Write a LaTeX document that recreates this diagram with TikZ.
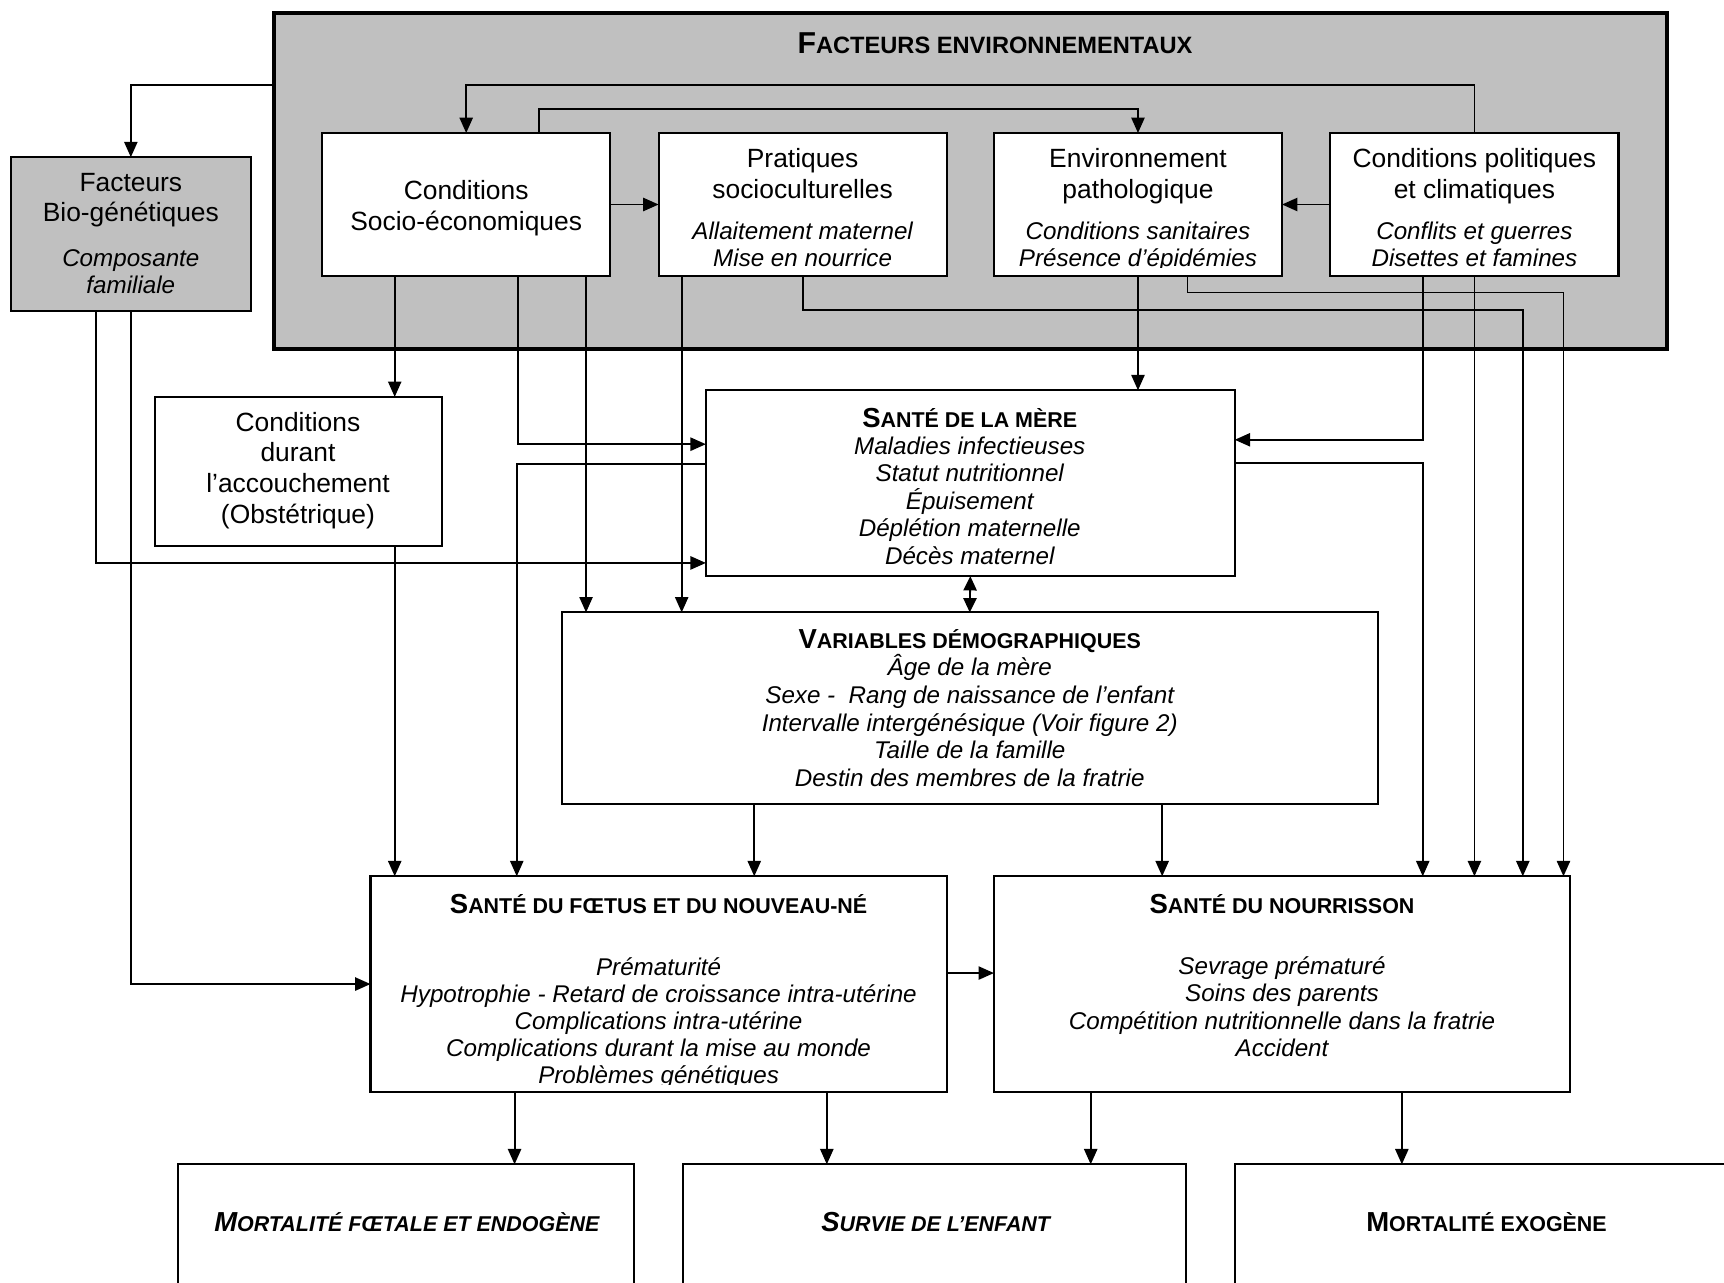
\documentclass[tikz,border=0pt]{standalone}
\usepackage{fontspec}
\setmainfont{Liberation Sans}
\usetikzlibrary{arrows.meta}
\definecolor{grayfill}{HTML}{C0C0C0}
\newcommand\hd[2]{{\fontsize{25}{28}\selectfont #1}{\fontsize{19.5}{22}\selectfont #2}}
\newcommand\hdbig[2]{{\fontsize{27.5}{30}\selectfont #1}{\fontsize{21.5}{24}\selectfont #2}}
\begin{document}
\begin{tikzpicture}[x=1pt,y=-1pt,
  box/.style={draw, line width=1.9pt, fill=white, inner sep=0pt, outer sep=0pt, anchor=north west},
  con/.style={line width=1.7pt, -{Triangle[length=14pt,width=12pt]}},
  dcon/.style={line width=1.7pt, {Triangle[length=13pt,width=12pt]}-{Triangle[length=13pt,width=12pt]}},
  txt/.style={anchor=base, align=center, inner sep=0pt, font=\fontsize{24}{28}\selectfont},
  itx/.style={anchor=base, align=center, inner sep=0pt, font=\fontsize{22}{25}\selectfont\itshape},
  ttl/.style={anchor=base, align=center, inner sep=0pt, font=\bfseries}]
\useasboundingbox (0,0) rectangle (1568,1166);

% environmental frame
\node[box, fill=grayfill, line width=3.6pt, minimum width=1267pt, minimum height=305pt] (envf) at (249,12) {};
\node[ttl] (envfT) at (905,48.5) {\hdbig{F}{ACTEURS ENVIRONNEMENTAUX}};

% boxes
\node[box, fill=grayfill, minimum width=218pt, minimum height=140pt] (bio) at (10,143) {};
\node[box, minimum width=262pt, minimum height=130pt] (socio) at (293,121) {};
\node[box, minimum width=262pt, minimum height=130pt] (prat) at (599,121) {};
\node[box, minimum width=262pt, minimum height=130pt] (env) at (904,121) {};
\node[box, minimum width=262pt, minimum height=130pt] (pol) at (1210,121) {};
\node[box, minimum width=261pt, minimum height=136pt] (cond) at (141,361) {};
\node[box, minimum width=481pt, minimum height=169pt] (mere) at (642,355) {};
\node[box, minimum width=742pt, minimum height=174pt] (var) at (511,557) {};
\node[box, minimum width=524pt, minimum height=196pt] (foetus) at (337,797) {};
\node[box, minimum width=524pt, minimum height=196pt] (nour) at (904,797) {};
\node[box, minimum width=415pt, minimum height=160pt] (mfoet) at (162,1059) {};
\node[box, minimum width=458pt, minimum height=160pt] (surv) at (621,1059) {};
\node[box, minimum width=458pt, minimum height=160pt] (mexo) at (1123,1059) {};

% texts (base anchor = baseline of the last line)
\node[txt, font=\fontsize{24}{27.3}\selectfont] (bioT) at (119,201.6) {Facteurs\\Bio-génétiques};
\node[itx, font=\fontsize{22}{24.3}\selectfont\itshape] (bioI) at (119,266.8) {Composante\\familiale};
\node[txt] (socioT) at (424,209.3) {Conditions\\Socio-économiques};
\node[txt] (pratT) at (730,180.5) {Pratiques\\socioculturelles};
\node[txt] (envT) at (1035,180.5) {Environnement\\pathologique};
\node[txt] (polT) at (1341,180.5) {Conditions politiques\\et climatiques};
\begin{scope}
\clip (prat.north west) rectangle ([yshift=7.5pt]prat.south east);
\node[itx, font=\fontsize{22}{24.5}\selectfont\itshape] (pratI) at (730,242) {Allaitement maternel\\Mise en nourrice};
\end{scope}
\begin{scope}
\clip (env.north west) rectangle ([yshift=7.5pt]env.south east);
\node[itx, font=\fontsize{22}{24.5}\selectfont\itshape] (envI) at (1035,242) {Conditions sanitaires\\Présence d’épidémies};
\end{scope}
\begin{scope}
\clip (pol.north west) rectangle ([yshift=7.5pt]pol.south east);
\node[itx, font=\fontsize{22}{24.5}\selectfont\itshape] (polI) at (1341,242) {Conflits et guerres\\Disettes et famines};
\end{scope}
\node[txt] (condT) at (271,476) {Conditions\\durant\\l’accouchement\\(Obstétrique)};
\node[ttl] (mereT) at (882,389) {\hd{S}{ANTÉ DE LA MÈRE}};
\node[itx] (mereI) at (882,513) {Maladies infectieuses\\Statut nutritionnel\\Épuisement\\Déplétion maternelle\\Décès maternel};
\node[ttl] (varT) at (882,590) {\hd{V}{ARIABLES DÉMOGRAPHIQUES}};
\node[itx, font=\fontsize{22}{25.2}\selectfont\itshape] (varI) at (882,715.3) {Âge de la mère\\Sexe -\ \ Rang de naissance de l’enfant\\Intervalle intergénésique (Voir figure 2)\\Taille de la famille\\Destin des membres de la fratrie};
\node[ttl] (foetusT) at (599,831) {\hd{S}{ANTÉ DU FŒTUS ET DU NOUVEAU-NÉ}};
\begin{scope}
\clip (foetus.north west) rectangle ([yshift=7pt]foetus.south east);
\node[itx, font=\fontsize{22}{24.6}\selectfont\itshape] (foetusI) at (599,985.2) {Prématurité\\Hypotrophie - Retard de croissance intra-utérine\\Complications intra-utérine\\Complications durant la mise au monde\\Problèmes génétiques};
\end{scope}
\node[ttl] (nourT) at (1166,831) {\hd{S}{ANTÉ DU NOURRISSON}};
\node[itx, font=\fontsize{22}{24.8}\selectfont\itshape] (nourI) at (1166,960.9) {Sevrage prématuré\\Soins des parents\\Compétition nutritionnelle dans la fratrie\\Accident};
\node[ttl, font=\bfseries\itshape] (mfoetT) at (370,1120) {\hd{M}{ORTALITÉ FŒTALE ET ENDOGÈNE}};
\node[ttl, font=\bfseries\itshape] (survT) at (851,1120) {\hd{S}{URVIE DE L’ENFANT}};
\node[ttl] (mexoT) at (1352,1120) {\hd{M}{ORTALITÉ EXOGÈNE}};

% connectors inside the frame
\draw[con] (envf.west |- 0,77) -| (bio.north);
\draw[con] (pol.north) -- (pol.north |- 0,77) -| (socio.north);
\draw[con] (socio.north -| 490,0) |- (env.north |- 0,99) -- (env.north);
\draw[con] (socio.east) -- (prat.west);
\draw[con] (pol.west) -- (env.east);

% connectors from the top boxes
\draw[con] (socio.south -| 359,0) -- (cond.north -| 359,0);
\draw[con] (socio.south -| 471,0) |- (mere.west |- 0,404);
\draw[con] (socio.south -| 533,0) -- (var.north -| 533,0);
\draw[con] (prat.south -| 620,0) -- (var.north -| 620,0);
\draw[con] (prat.south) -- ++(0,31) -| (nour.north -| 1385,0);
\draw[con] (env.south) -- (mere.north -| env.south);
\draw[con] (env.south -| 1080,0) -- ++(0,15) -| (nour.north -| 1422,0);
\draw[con] (pol.south -| 1294,0) |- (mere.east |- 0,400);
\draw[con] (pol.south) -- (nour.north -| pol.south);

% bio-genetic factors
\draw[con] (bio.south -| 87,0) |- (mere.west |- 0,512);
\draw[con] (bio.south) |- (foetus.west |- 0,895);

% mother's health
\draw[con] (mere.east |- 0,421) -| (nour.north -| 1294,0);
\draw[con] (mere.west |- 0,422) -| (foetus.north -| 470,0);
\draw[dcon] (mere.south) -- (var.north);
\draw[con] (cond.south -| 359,0) -- (foetus.north -| 359,0);

% demographic variables
\draw[con] (var.south -| 686,0) -- (foetus.north -| 686,0);
\draw[con] (var.south -| 1057,0) -- (nour.north -| 1057,0);

% foetus -> infant
\draw[con] (foetus.east |- 0,885) -- (nour.west |- 0,885);

% outcomes
\draw[con] (foetus.south -| 468,0) -- (mfoet.north -| 468,0);
\draw[con] (foetus.south -| 752,0) -- (surv.north -| 752,0);
\draw[con] (nour.south -| 992,0) -- (surv.north -| 992,0);
\draw[con] (nour.south -| 1275,0) -- (mexo.north -| 1275,0);
\end{tikzpicture}
\end{document}
